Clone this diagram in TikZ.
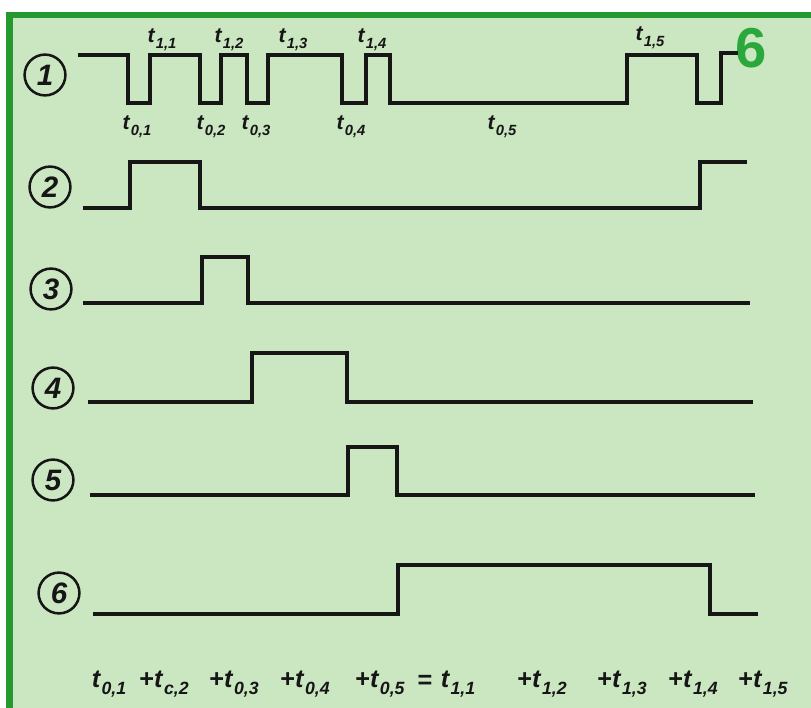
\documentclass[tikz,border=0pt]{standalone}
\usepackage{fontspec}
\usepackage{graphicx}
\setmainfont{Liberation Sans}
\usetikzlibrary{positioning}
\definecolor{paper}{HTML}{CBE7C2}
\definecolor{frame}{HTML}{23992F}
\definecolor{fignum}{HTML}{2BA83B}
\definecolor{ink}{HTML}{161616}

% t with a two-part subscript
\newcommand{\tsub}[2]{\textit{t}\kern0.4pt\raisebox{-0.55ex}{\scalebox{0.7}{\textit{#1,#2}}}}

\begin{document}
\begin{tikzpicture}[x=0.025cm, y=-0.025cm,
  trace/.style={ink, line width=2.9pt, line join=miter},
  chan/.style={circle, draw=ink, line width=1.8pt, inner sep=0pt, minimum size=1.02cm,
    text=ink, font=\fontsize{21}{21}\selectfont\bfseries\itshape},
  tlab/.style={text=ink, inner sep=0pt, font=\fontsize{15}{15}\selectfont\bfseries},
  sumlab/.style={text=ink, inner sep=0pt, font=\fontsize{18}{18}\selectfont\bfseries}]

% Background (coordinates in pixels, y downwards)
\useasboundingbox (0,0) rectangle (811,708);
\fill[white] (0,0) rectangle (811,708);
\fill[frame] (6,12) rectangle (811,708);
\fill[paper] (13,18) rectangle (811,708);

% Figure number
\node[text=fignum, inner sep=0pt, font=\fontsize{40}{40}\selectfont\bfseries] (fig) at (751,48) {6};

% Channel markers
\foreach \n/\cx/\cy in {1/45/75, 2/50/187, 3/51/289, 4/53/388, 5/53/480, 6/59/593}
  \node[chan] (c\n) at (\cx,\cy) {\n};

% Trace 1: input pulse train
\draw[trace] (78,55) -| (128,103) -| (150,55) -| (200,103) -| (221,55) -| (247,103)
  -| (268,55) -| (342,103) -| (366,55) -| (390,103) -| (627,55) -| (697,103)
  -| (721,53) -- (738,53);

% Trace 1 labels
\node[tlab] (h1) at (162,40) {\tsub{1}{1}};
\node[tlab] (h2) at (229,40) {\tsub{1}{2}};
\node[tlab] (h3) at (293,40) {\tsub{1}{3}};
\node[tlab] (h4) at (372,40) {\tsub{1}{4}};
\node[tlab] (h5) at (650,38) {\tsub{1}{5}};
\node[tlab] (l1) at (137,127) {\tsub{0}{1}};
\node[tlab] (l2) at (211,127) {\tsub{0}{2}};
\node[tlab] (l3) at (256,127) {\tsub{0}{3}};
\node[tlab] (l4) at (351,127) {\tsub{0}{4}};
\node[tlab] (l5) at (502,127) {\tsub{0}{5}};

% Traces 2 to 6
\draw[trace] (83,208) -| (130,162) -| (200,208) -| (700,162) -- (747,162);
\draw[trace] (83,303) -| (202,257) -| (248,303) -- (750,303);
\draw[trace] (88,402) -| (252,353) -| (347,402) -- (753,402);
\draw[trace] (90,495) -| (348,447) -| (397,495) -- (755,495);
\draw[trace] (93,614) -| (398,565) -| (710,614) -- (758,614);

% Sum of the times
\node[sumlab] (s1) at (109,684) {\tsub{0}{1}};
\node[sumlab] (s2) at (164,684) {+\tsub{c}{2}};
\node[sumlab] (s3) at (234,684) {+\tsub{0}{3}};
\node[sumlab] (s4) at (305,684) {+\tsub{0}{4}};
\node[sumlab] (s5) at (380,684) {+\tsub{0}{5}};
\node[sumlab] (eq) at (425,682) {=};
\node[sumlab] (s6) at (458,684) {\tsub{1}{1}};
\node[sumlab] (s7) at (542,684) {+\tsub{1}{2}};
\node[sumlab] (s8) at (622,684) {+\tsub{1}{3}};
\node[sumlab] (s9) at (693,684) {+\tsub{1}{4}};
\node[sumlab] (s10) at (763,684) {+\tsub{1}{5}};

\end{tikzpicture}
\end{document}
